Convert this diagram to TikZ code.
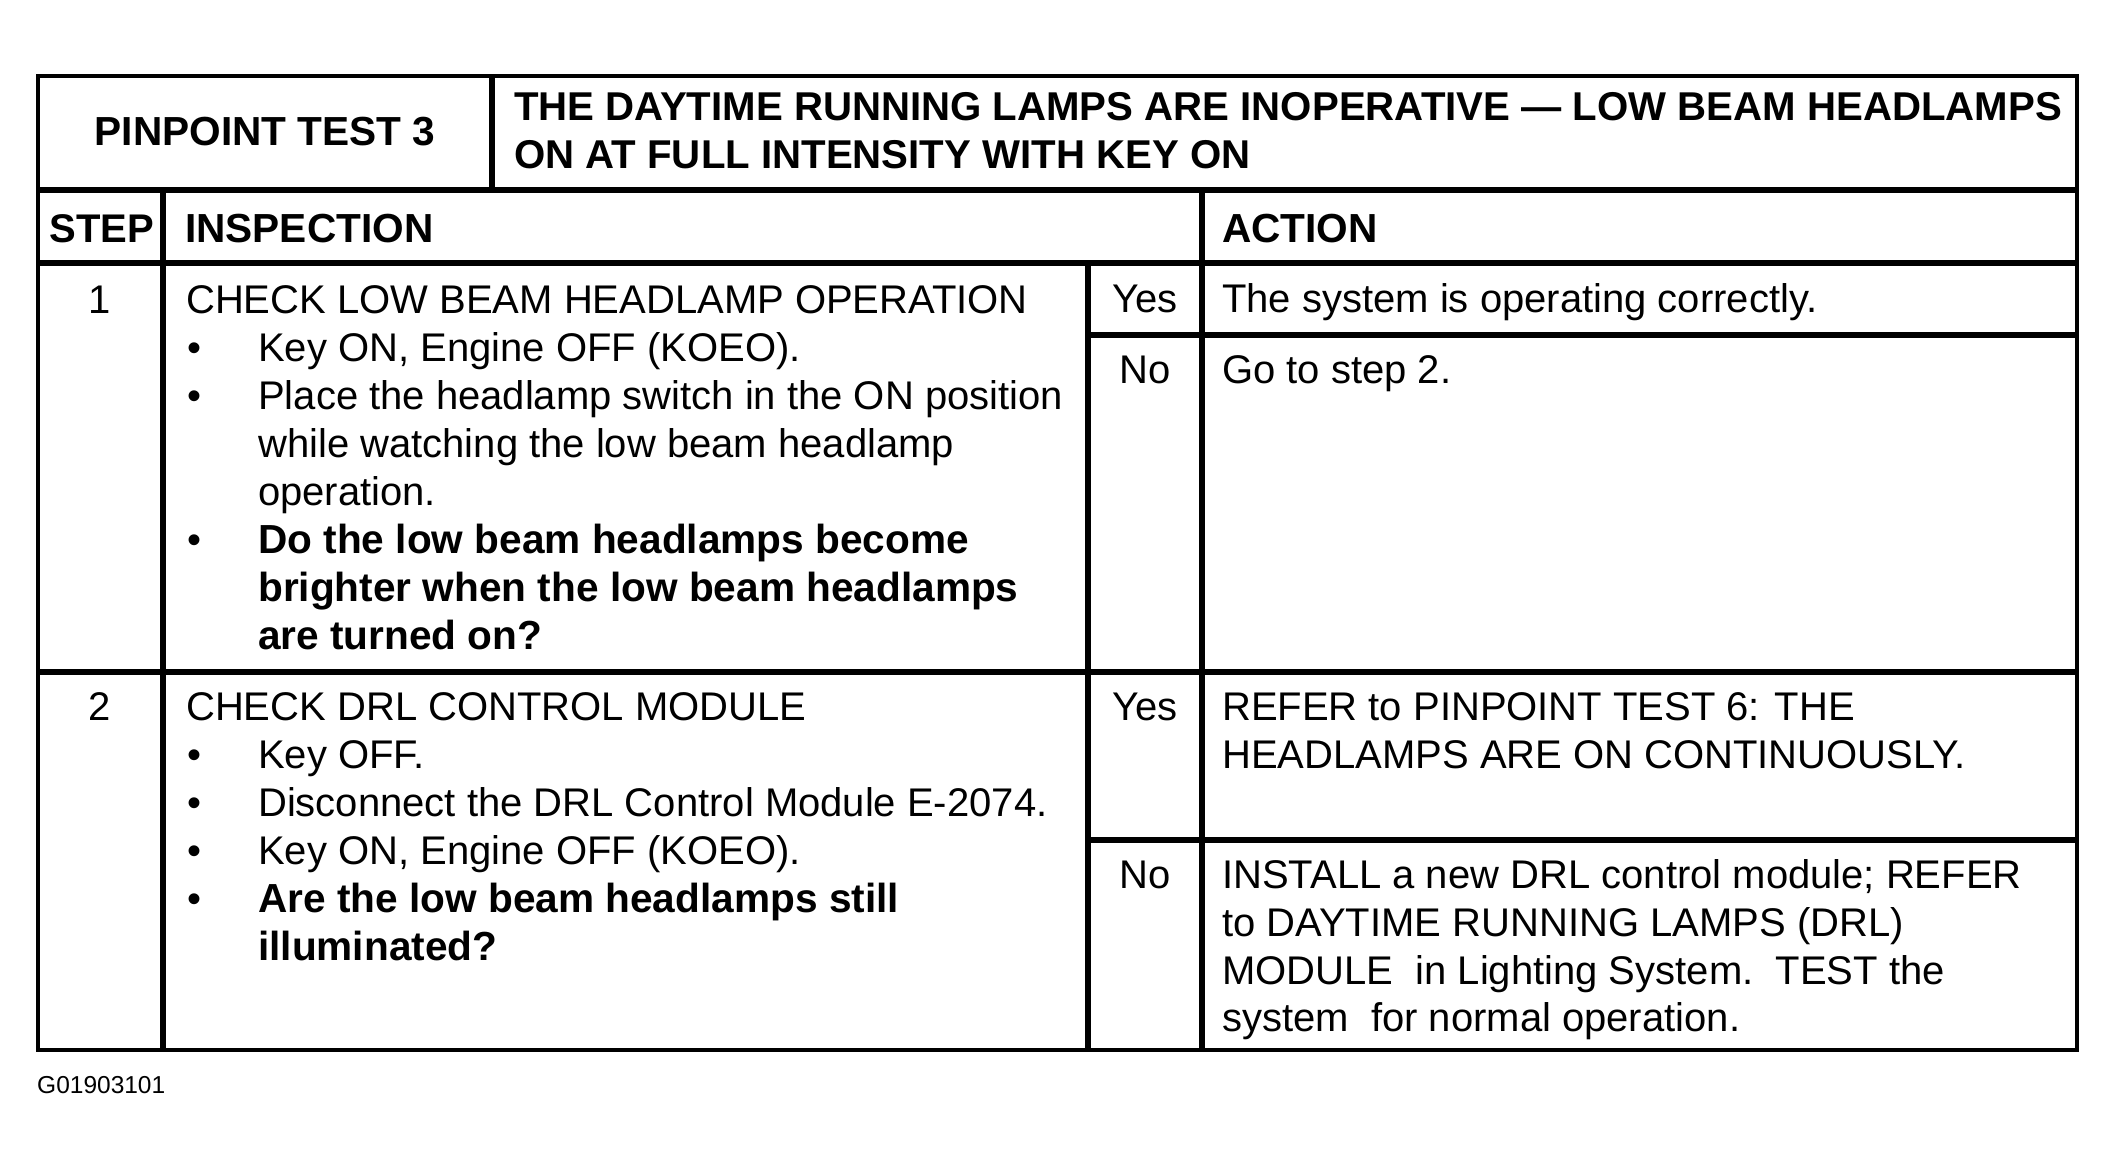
\documentclass[tikz,border=0pt]{standalone}
\usepackage{fontspec}
\setmainfont{Liberation Sans}
\begin{document}
\begin{tikzpicture}[x=1pt,y=-1pt,
  outerline/.style={line width=3.5pt, line join=miter},
  innerline/.style={line width=5.5pt},
  txt/.style={anchor=base west, inner sep=0pt, font=\fontsize{40}{48}\selectfont},
  btxt/.style={anchor=base west, inner sep=0pt, font=\fontsize{40.6}{48}\selectfont\bfseries},
  titletxt/.style={anchor=base west, inner sep=0pt, font=\fontsize{40.2}{48}\selectfont\bfseries},
  ctxt/.style={anchor=base, inner sep=0pt, font=\fontsize{40}{48}\selectfont},
  cbtxt/.style={anchor=base, inner sep=0pt, font=\fontsize{40.6}{48}\selectfont\bfseries},
  bul/.style={anchor=base west, inner sep=0pt, font=\fontsize{40}{48}\selectfont},
  captxt/.style={anchor=base west, inner sep=0pt, font=\fontsize{24.5}{29}\selectfont}]
\useasboundingbox (0,0) rectangle (2116,1170);
% grid coordinates
\coordinate (tl) at (38,76);
\coordinate (br) at (2077,1050);
% lines
\draw[innerline] (492,76) -- (492,190);
\draw[innerline] (38,190) -- (2077,190);
\draw[innerline] (38,263) -- (2077,263);
\draw[innerline] (38,672) -- (2077,672);
\draw[innerline] (163,190) -- (163,1050);
\draw[innerline] (1202,190) -- (1202,1050);
\draw[innerline] (1088,263) -- (1088,1050);
\draw[innerline] (1088,335) -- (2077,335);
\draw[innerline] (1088,840) -- (2077,840);
\draw[outerline] (tl) rectangle (br);
% header
\node[cbtxt] (pin) at (265,145) {PINPOINT TEST 3};
\node[titletxt] (ti1) at (514,120) {THE DAYTIME RUNNING LAMPS ARE INOPERATIVE — LOW BEAM HEADLAMPS};
\node[titletxt] (ti2) at (514,168) {ON AT FULL INTENSITY WITH KEY ON};
\node[anchor=base, inner sep=0pt, font=\fontsize{40}{48}\selectfont\bfseries] (hstep) at (102,242) {STEP};
\node[btxt] (hinsp) at (185,242) {INSPECTION};
\node[btxt] (hact) at (1222,242) {ACTION};
% step 1
\node[ctxt] (n1) at (100,313) {1};
\node[txt] (a1) at (186,313) {CHECK LOW BEAM HEADLAMP OPERATION};
\node[bul] (b11) at (187,361) {•};
\node[txt] (a2) at (258,361) {Key ON, Engine OFF (KOEO).};
\node[bul] (b12) at (187,409) {•};
\node[txt] (a3) at (258,409) {Place the headlamp switch in the ON position};
\node[txt] (a4) at (258,457) {while watching the low beam headlamp};
\node[txt] (a5) at (258,505) {operation.};
\node[bul] (b13) at (187,553) {•};
\node[btxt] (a6) at (258,553) {Do the low beam headlamps become};
\node[btxt] (a7) at (258,601) {brighter when the low beam headlamps};
\node[btxt] (a8) at (258,649) {are turned on?};
\node[ctxt] (y1) at (1145,312) {Yes};
\node[txt] (y1a) at (1222,312) {The system is operating correctly.};
\node[ctxt] (no1) at (1145,383) {No};
\node[txt] (no1a) at (1222,383) {Go to step 2.};
% step 2
\node[ctxt] (n2) at (100,720) {2};
\node[txt] (c1) at (186,720) {CHECK DRL CONTROL MODULE};
\node[bul] (b21) at (187,768) {•};
\node[txt] (c2) at (258,768) {Key OFF.};
\node[bul] (b22) at (187,816) {•};
\node[txt] (c3) at (258,816) {Disconnect the DRL Control Module E-2074.};
\node[bul] (b23) at (187,864) {•};
\node[txt] (c4) at (258,864) {Key ON, Engine OFF (KOEO).};
\node[bul] (b24) at (187,912) {•};
\node[btxt] (c5) at (258,912) {Are the low beam headlamps still};
\node[btxt] (c6) at (258,960) {illuminated?};
\node[ctxt] (y2) at (1145,720) {Yes};
\node[txt] (y2a) at (1222,720) {REFER to PINPOINT TEST 6: THE};
\node[txt] (y2b) at (1222,768) {HEADLAMPS ARE ON CONTINUOUSLY.};
\node[ctxt] (no2) at (1145,888) {No};
\node[txt] (no2a) at (1222,888) {INSTALL a new DRL control module; REFER};
\node[txt] (no2b) at (1222,936) {to DAYTIME RUNNING LAMPS (DRL)};
\node[txt] (no2c) at (1222,984) {MODULE\ \ in Lighting System.\ \ TEST the};
\node[txt] (no2d) at (1222,1031) {system\ \ for normal operation.};
% caption
\node[captxt] (capn) at (37,1093) {G01903101};
\end{tikzpicture}
\end{document}
